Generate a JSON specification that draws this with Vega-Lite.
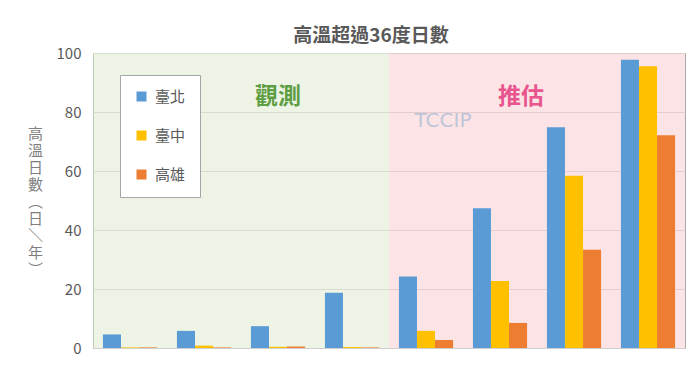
{
  "$schema": "https://vega.github.io/schema/vega-lite/v6.json",
  "width": 592,
  "height": 295,
  "autosize": "none",
  "padding": {"left": 93, "top": 53, "right": 15, "bottom": 44},
  "background": "white",
  "title": {
    "text": "高溫超過36度日數",
    "font": "Noto Sans CJK TC",
    "fontSize": 19,
    "fontWeight": "bold",
    "color": "#595959",
    "anchor": "middle",
    "dx": -18,
    "offset": 0
  },
  "config": {
    "font": "Noto Sans CJK TC",
    "view": {"stroke": "#A6A6A6", "strokeWidth": 1},
    "axis": {
      "labelFont": "Noto Sans CJK TC",
      "labelColor": "#595959",
      "labelFontSize": 14,
      "gridColor": "#D0D0D0",
      "titleFont": "Noto Sans CJK TC"
    }
  },
  "layer": [
    {
      "data": {"values": [
        {"period": "1940-59", "phase": "觀測"},
        {"period": "1960-79", "phase": "觀測"},
        {"period": "1980-99", "phase": "觀測"},
        {"period": "2000-17", "phase": "觀測"},
        {"period": "2020-39", "phase": "推估"},
        {"period": "2040-59", "phase": "推估"},
        {"period": "2060-79", "phase": "推估"},
        {"period": "2080-99", "phase": "推估"}
      ]},
      "mark": {"type": "rect", "strokeWidth": 0, "opacity": 0.5},
      "encoding": {
        "x": {"field": "period", "type": "nominal", "sort": null, "scale": {"paddingInner": 0, "paddingOuter": 0}, "axis": null},
        "fill": {
          "condition": {"test": "datum.phase === '觀測'", "value": "#DBE9CB"},
          "value": "#F9C7CB"
        }
      }
    },
    {
      "data": {"values": [
        {"period": "1940-59", "city": "臺北", "days": 4.6},
        {"period": "1940-59", "city": "臺中", "days": 0.2},
        {"period": "1940-59", "city": "高雄", "days": 0.2},
        {"period": "1960-79", "city": "臺北", "days": 5.8},
        {"period": "1960-79", "city": "臺中", "days": 0.8},
        {"period": "1960-79", "city": "高雄", "days": 0.2},
        {"period": "1980-99", "city": "臺北", "days": 7.4},
        {"period": "1980-99", "city": "臺中", "days": 0.4},
        {"period": "1980-99", "city": "高雄", "days": 0.5},
        {"period": "2000-17", "city": "臺北", "days": 18.7},
        {"period": "2000-17", "city": "臺中", "days": 0.3},
        {"period": "2000-17", "city": "高雄", "days": 0.2},
        {"period": "2020-39", "city": "臺北", "days": 24.2},
        {"period": "2020-39", "city": "臺中", "days": 5.8},
        {"period": "2020-39", "city": "高雄", "days": 2.7},
        {"period": "2040-59", "city": "臺北", "days": 47.4},
        {"period": "2040-59", "city": "臺中", "days": 22.7},
        {"period": "2040-59", "city": "高雄", "days": 8.5},
        {"period": "2060-79", "city": "臺北", "days": 74.8},
        {"period": "2060-79", "city": "臺中", "days": 58.4},
        {"period": "2060-79", "city": "高雄", "days": 33.3},
        {"period": "2080-99", "city": "臺北", "days": 97.7},
        {"period": "2080-99", "city": "臺中", "days": 95.5},
        {"period": "2080-99", "city": "高雄", "days": 72.1}
      ]},
      "mark": {"type": "bar"},
      "encoding": {
        "x": {
          "field": "period", "type": "nominal", "sort": null, "title": null,
          "scale": {"paddingInner": 0, "paddingOuter": 0},
          "axis": {"labelAngle": 0, "ticks": false, "labelPadding": 11, "domainColor": "#8C8C8C", "labelFontSize": 14}
        },
        "xOffset": {
          "field": "city", "type": "nominal",
          "sort": ["臺北", "臺中", "高雄"],
          "scale": {"domain": ["臺北", "臺中", "高雄"], "paddingInner": 0, "paddingOuter": 0.55}
        },
        "y": {
          "field": "days", "type": "quantitative",
          "scale": {"domain": [0, 100], "nice": false},
          "axis": {
            "values": [0, 20, 40, 60, 80, 100],
            "ticks": false, "domain": false, "labelPadding": 12, "labelFontSize": 15,
            "title": ["高", "溫", "日", "數", "︵", "日", "＼", "年", "︶"],
            "titleAngle": 0, "titleX": -58, "titleY": 73,
            "titleAlign": "center", "titleBaseline": "top",
            "titleFontSize": 15, "titleFontWeight": "normal",
            "titleColor": "#7F7F7F", "titleLineHeight": 17
          }
        },
        "color": {
          "field": "city", "type": "nominal",
          "scale": {"domain": ["臺北", "臺中", "高雄"], "range": ["#5B9BD5", "#FFC000", "#ED7D31"]},
          "legend": {
            "orient": "none", "legendX": 27, "legendY": 22, "title": null,
            "fillColor": "white", "strokeColor": "#A6A6A6",
            "padding": 14, "rowPadding": 23,
            "symbolType": "square", "symbolSize": 100, "symbolStrokeWidth": 0,
            "labelFontSize": 15, "labelColor": "#595959", "labelOffset": 6
          }
        }
      }
    },
    {
      "data": {"values": [{"label": "TCCIP"}]},
      "mark": {"type": "text", "fontSize": 20, "color": "#B3C1D6", "fontWeight": "normal", "font": "DejaVu Sans", "opacity": 0.85, "dx": 17},
      "encoding": {
        "text": {"field": "label"},
        "x": {"datum": "2020-39"},
        "y": {"datum": 77}
      }
    },
    {
      "data": {"values": [{"label": "觀測"}]},
      "mark": {"type": "text", "fontSize": 23, "color": "#5E9E43", "fontWeight": "bold"},
      "encoding": {
        "text": {"field": "label"},
        "x": {"datum": "1980-99"},
        "y": {"datum": 85}
      }
    },
    {
      "data": {"values": [{"label": "推估"}]},
      "mark": {"type": "text", "fontSize": 23, "color": "#E8548D", "fontWeight": "bold", "dx": 21},
      "encoding": {
        "text": {"field": "label"},
        "x": {"datum": "2040-59"},
        "y": {"datum": 85}
      }
    }
  ]
}
